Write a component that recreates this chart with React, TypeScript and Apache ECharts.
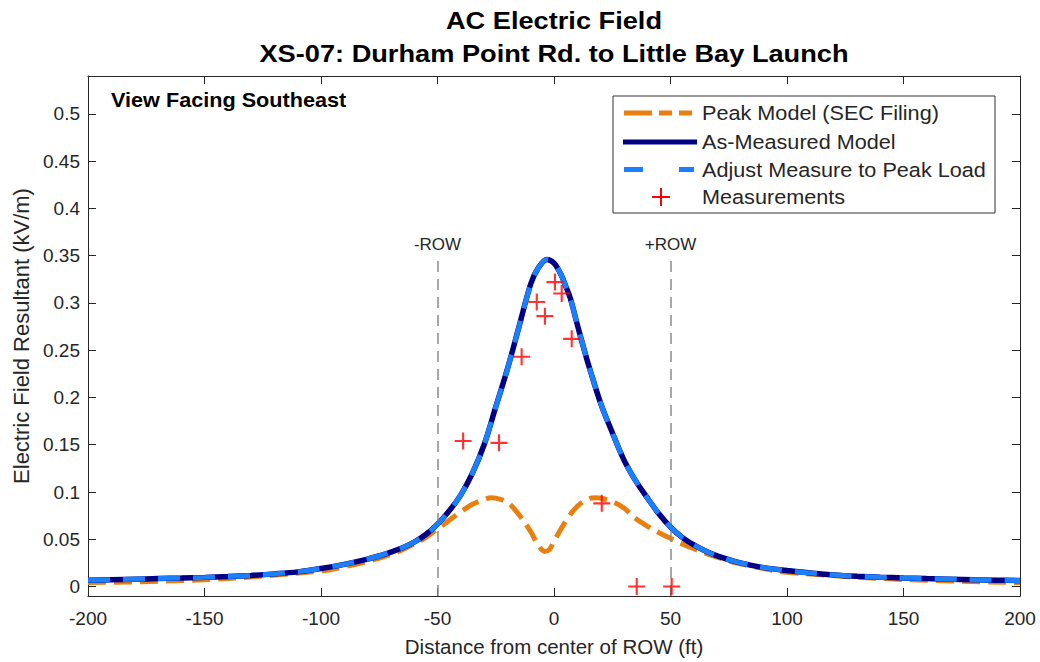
import React, { useEffect, useRef } from "react";
import * as echarts from "echarts";

// Distance from the centre of the right-of-way (ft) and field strength (kV/m)
const peakModelX = [-200, -150, -100, -90, -80, -70, -65, -60, -55, -50, -45, -40, -35, -30, -27, -25, -20, -15, -10, -7, -4, -2, 0, 5, 10, 15, 18, 20, 25, 30, 35, 40, 45, 50, 55, 60, 70, 80, 90, 100, 150, 200];
const peakModelY = [0.0042, 0.0072, 0.0165, 0.021, 0.0265, 0.034, 0.039, 0.045, 0.052, 0.061, 0.07, 0.079, 0.087, 0.092, 0.094, 0.0935, 0.089, 0.076, 0.058, 0.045, 0.037, 0.039, 0.048, 0.069, 0.085, 0.093, 0.094, 0.0935, 0.09, 0.083, 0.072, 0.064, 0.057, 0.051, 0.045, 0.04, 0.031, 0.024, 0.019, 0.015, 0.0075, 0.0042];

const asMeasuredX = [-200, -190, -180, -170, -160, -150, -140, -130, -120, -110, -100, -90, -80, -75, -70, -65, -60, -55, -50, -45, -40, -35, -30, -25, -20, -15, -10, -7, -3, 0, 3, 5, 7, 10, 13, 15, 20, 25, 30, 35, 40, 45, 50, 55, 60, 65, 70, 80, 90, 100, 110, 120, 130, 140, 150, 160, 170, 180, 190, 200];
const asMeasuredY = [0.0066, 0.0072, 0.0078, 0.0084, 0.009, 0.0097, 0.0106, 0.0118, 0.0134, 0.0155, 0.019, 0.0235, 0.029, 0.0325, 0.0365, 0.041, 0.047, 0.055, 0.066, 0.08, 0.097, 0.12, 0.15, 0.19, 0.23, 0.275, 0.32, 0.336, 0.346, 0.342, 0.33, 0.318, 0.305, 0.277, 0.25, 0.233, 0.194, 0.163, 0.134, 0.112, 0.094, 0.077, 0.063, 0.052, 0.044, 0.0375, 0.0325, 0.025, 0.02, 0.017, 0.0143, 0.0123, 0.0109, 0.0099, 0.0091, 0.0084, 0.0078, 0.0072, 0.0067, 0.0063];

// Adjusted-to-peak-load curve overlays the as-measured model
const adjustedX = asMeasuredX;
const adjustedY = asMeasuredY;

const measurementX = [-39, -23.6, -13.9, -7.4, -3.9, 0.4, 3.3, 7.6, 20.5, 35.5, 50.5];
const measurementY = [0.154, 0.152, 0.243, 0.301, 0.286, 0.322, 0.31, 0.262, 0.088, 0, 0];

const yTicks = [0, 0.05, 0.1, 0.15, 0.2, 0.25, 0.3, 0.35, 0.4, 0.45, 0.5];
const rowEdges = [-50, 50];
const rowLabels = ["-ROW", "+ROW"];

const legendNames = ["Peak Model (SEC Filing)", "As-Measured Model", "Adjust Measure to Peak Load", "Measurements"];

const FONT = "'Liberation Sans', Arial, Helvetica, sans-serif";
const INK = "#262626";
const ORANGE = "#E8800F";
const NAVY = "#000085";
const BLUE = "#1a80ff";
const RED = "#ff0000";
const PLUS = "path://M7,0h2v7h7v2h-7v7h-2v-7h-7v-2h7z";
const WIDE = 1.11;

const pairs = (xs: number[], ys: number[]) => xs.map((x, i) => [x, ys[i]]);

function wideText(text: string, x: number, y: number, font: string, align = "left") {
  return {
    type: "text",
    x,
    y,
    scaleX: WIDE,
    style: { text, align, verticalAlign: "middle", font, fill: "#000" },
  };
}

function legendBox() {
  const left = 613;
  const top = 96;
  const rows = [113, 142, 169.5, 197];
  const x0 = 624;
  const x1 = 697;
  const textX = 702;
  const font = `19.5px ${FONT}`;
  return {
    type: "group",
    z: 100,
    children: [
      { type: "rect", shape: { x: left, y: top, width: 382, height: 117 }, style: { fill: "#fff", stroke: "#333", lineWidth: 1 } },
      { type: "line", shape: { x1: x0, y1: rows[0], x2: x1 - 2, y2: rows[0] }, style: { stroke: ORANGE, lineWidth: 5, lineDash: [28, 7, 13, 7, 13, 100] } },
      { type: "line", shape: { x1: x0 - 1, y1: rows[1], x2: x1, y2: rows[1] }, style: { stroke: NAVY, lineWidth: 5 } },
      { type: "line", shape: { x1: x0, y1: rows[2], x2: x1 - 3, y2: rows[2] }, style: { stroke: BLUE, lineWidth: 5, lineDash: [19, 36, 15, 100] } },
      { type: "line", shape: { x1: 652, y1: rows[3], x2: 670, y2: rows[3] }, style: { stroke: RED, lineWidth: 2 } },
      { type: "line", shape: { x1: 661, y1: rows[3] - 9, x2: 661, y2: rows[3] + 9 }, style: { stroke: RED, lineWidth: 2 } },
      ...legendNames.map((name, i) => ({
        type: "text",
        x: textX,
        y: rows[i],
        scaleX: WIDE,
        style: { text: name, align: "left", verticalAlign: "middle", font, fill: INK },
      })),
    ],
  };
}

export default function App() {
  const ref = useRef<HTMLDivElement>(null);

  useEffect(() => {
    if (!ref.current) return;
    const chart = echarts.init(ref.current, null, { renderer: "svg" });

    const axisLine = { show: true, onZero: false, lineStyle: { color: INK, width: 1 } };
    const tick = { show: true, inside: true, length: 8, lineStyle: { color: INK, width: 1 } };
    const labelFont = { fontSize: 19, color: INK, fontFamily: FONT };

    const option = {
      animation: false,
      backgroundColor: "#ffffff",
      textStyle: { fontFamily: FONT },
      grid: { left: 88, right: 20, top: 76, bottom: 65 },
      graphic: [
        wideText("AC Electric Field", 554, 20, `bold 24.5px ${FONT}`, "center"),
        wideText("XS-07: Durham Point Rd. to Little Bay Launch", 554, 53, `bold 24.5px ${FONT}`, "center"),
        wideText("View Facing Southeast", 111, 100, `bold 19.5px ${FONT}`),
        legendBox(),
      ],
      xAxis: [
        {
          type: "value",
          min: -200,
          max: 200,
          interval: 50,
          position: "bottom",
          name: "Distance from center of ROW (ft)",
          nameLocation: "middle",
          nameGap: 40,
          nameTextStyle: { fontSize: 20.5, color: INK, fontFamily: FONT },
          axisLine,
          axisTick: tick,
          axisLabel: { ...labelFont, margin: 13 },
          splitLine: { show: false },
        },
        {
          type: "value",
          min: -200,
          max: 200,
          interval: 50,
          position: "top",
          axisLine,
          axisTick: tick,
          axisLabel: { show: false },
          splitLine: { show: false },
        },
      ],
      yAxis: [
        {
          type: "value",
          min: -0.01,
          max: 0.54,
          position: "left",
          name: "Electric Field Resultant (kV/m)",
          nameLocation: "middle",
          nameGap: 55,
          nameTextStyle: { fontSize: 22, color: INK, fontFamily: FONT },
          axisLine,
          axisTick: { ...tick, customValues: yTicks },
          axisLabel: { ...labelFont, margin: 8, customValues: yTicks, formatter: (v: number) => String(+v.toFixed(2)) },
          splitLine: { show: false },
        },
        {
          type: "value",
          min: -0.01,
          max: 0.54,
          position: "right",
          axisLine,
          axisTick: { ...tick, customValues: yTicks },
          axisLabel: { show: false, customValues: yTicks },
          splitLine: { show: false },
        },
      ],
      series: [
        {
          name: legendNames[0],
          type: "line",
          data: pairs(peakModelX, peakModelY),
          smooth: 0.35,
          showSymbol: false,
          symbol: "none",
          z: 3,
          lineStyle: { color: ORANGE, width: 5, type: [18, 8], cap: "butt" },
          markLine: {
            silent: true,
            symbol: "none",
            animation: false,
            lineStyle: { color: "#8c8c8c", width: 1.5, type: [11, 7] },
            label: { show: true, position: "end", distance: 7, fontSize: 17, color: INK, fontFamily: FONT },
            data: rowEdges.map((x, i) => [
              { coord: [x, -0.01], name: rowLabels[i] },
              { coord: [x, 0.345], label: { formatter: rowLabels[i] } },
            ]),
          },
        },
        {
          name: legendNames[1],
          type: "line",
          data: pairs(asMeasuredX, asMeasuredY),
          smooth: 0.35,
          showSymbol: false,
          symbol: "none",
          z: 4,
          lineStyle: { color: NAVY, width: 5.5 },
        },
        {
          name: legendNames[2],
          type: "line",
          data: pairs(adjustedX, adjustedY),
          smooth: 0.35,
          showSymbol: false,
          symbol: "none",
          z: 5,
          lineStyle: { color: BLUE, width: 5, type: [22, 13], cap: "butt" },
        },
        {
          name: legendNames[3],
          type: "scatter",
          data: pairs(measurementX, measurementY),
          symbol: PLUS,
          symbolSize: 17,
          z: 6,
          itemStyle: { color: RED },
        },
      ],
    };

    chart.setOption(option as any);
    return () => chart.dispose();
  }, []);

  return <div ref={ref} style={{ position: "fixed", left: 0, top: 0, width: 1040, height: 662, background: "#fff" }} />;
}
